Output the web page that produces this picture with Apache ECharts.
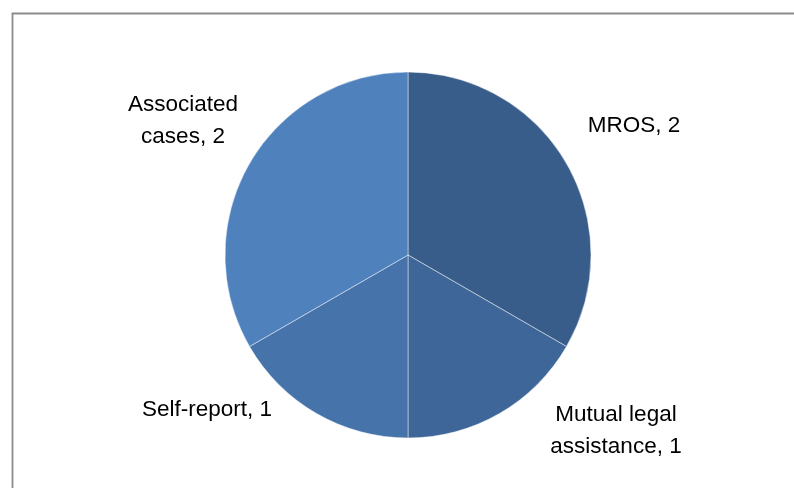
<!DOCTYPE html>
<html><head><meta charset="utf-8">
<script src="https://cdn.jsdelivr.net/npm/echarts@6/dist/echarts.min.js"></script>
<style>html,body{margin:0;padding:0;background:#fff}#c{width:794px;height:488px}</style>
</head><body><div id="c"></div>
<script>
const categories = ['MROS', 'Mutual legal\nassistance', 'Self-report', 'Associated\ncases'];
const values = [2, 1, 1, 2];
const colors = ['#385d8a', '#3e6698', '#4673aa', '#4f81bd'];
const labelPos = [[634, 126], [616, 431], [207, 410], [183, 121]];

const chart = echarts.init(document.getElementById('c'));
chart.setOption({
  animation: false,
  graphic: [{
    type: 'rect', left: 10, top: 11,
    shape: { width: 820, height: 520 },
    style: { fill: 'none', stroke: '#8c8c8c', lineWidth: 1.8 }
  }],
  series: [{
    type: 'pie',
    center: [408, 255],
    radius: [0, 183],
    startAngle: 90,
    clockwise: true,
    data: categories.map((n, i) => ({ name: n, value: values[i], itemStyle: { color: colors[i] } })),
    itemStyle: { borderColor: 'rgba(255,255,255,0.45)', borderWidth: 1 },
    label: {
      show: true,
      position: 'outside',
      formatter: p => p.name + ', ' + p.value,
      fontFamily: 'Liberation Sans, Arial, sans-serif',
      fontSize: 22.5,
      lineHeight: 32,
      color: '#000',
      align: 'center'
    },
    labelLine: { show: false },
    labelLayout: p => ({ x: labelPos[p.dataIndex][0], y: labelPos[p.dataIndex][1], align: 'center', verticalAlign: 'middle' }),
    emphasis: { disabled: true }
  }]
});
</script></body></html>
